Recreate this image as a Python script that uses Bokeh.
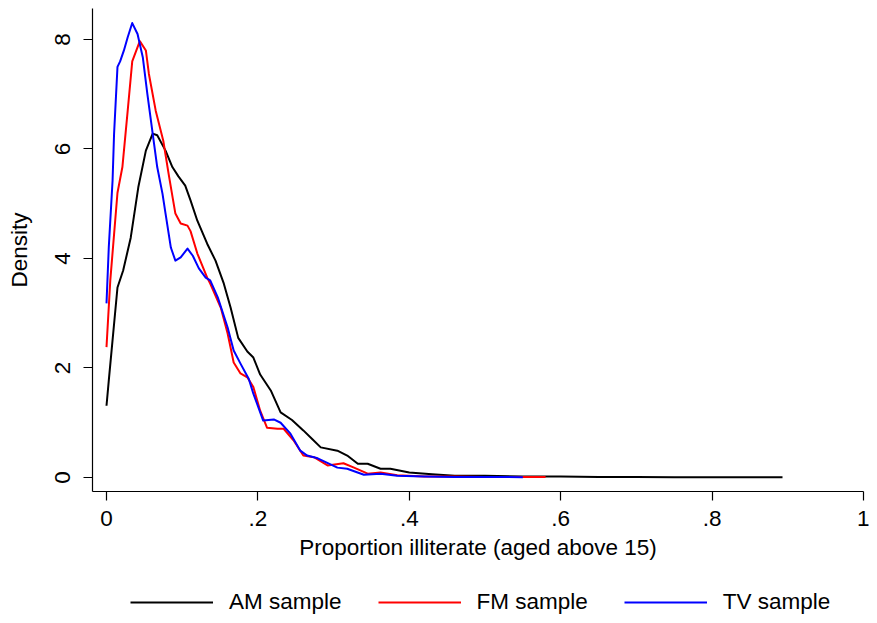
from bokeh.plotting import figure
from bokeh.layouts import column
from bokeh.models import Range1d, FixedTicker, CustomJSTickFormatter, Legend, LegendItem
from bokeh.embed import file_html
from bokeh.resources import INLINE

# ---- data ----
am_x = [0, 0.003, 0.0145, 0.022, 0.032, 0.042, 0.052, 0.061, 0.067, 0.078, 0.087, 0.095,
        0.104, 0.111, 0.12, 0.133, 0.144, 0.155, 0.164, 0.174, 0.186, 0.194, 0.203, 0.217,
        0.23, 0.245, 0.26, 0.272, 0.283, 0.305, 0.318, 0.332, 0.345, 0.362, 0.375, 0.40,
        0.43, 0.46, 0.5, 0.55, 0.6, 0.65, 0.7, 0.75, 0.8, 0.85, 0.893]
am_y = [1.31, 1.77, 3.47, 3.78, 4.38, 5.3, 5.97, 6.28, 6.25, 5.97, 5.67, 5.5,
        5.33, 5.06, 4.69, 4.27, 3.96, 3.54, 3.1, 2.55, 2.3, 2.19, 1.88, 1.59,
        1.19, 1.05, 0.86, 0.7, 0.55, 0.49, 0.4, 0.25, 0.25, 0.16, 0.16, 0.09,
        0.06, 0.03, 0.03, 0.02, 0.02, 0.01, 0.01, 0.005, 0.005, 0.005, 0.005]

fm_x = [0, 0.005, 0.0145, 0.021, 0.028, 0.034, 0.044, 0.052, 0.056, 0.065, 0.075, 0.082,
        0.088, 0.091, 0.098, 0.107, 0.111, 0.12, 0.133, 0.137, 0.151, 0.16, 0.168, 0.177,
        0.186, 0.194, 0.203, 0.212, 0.226, 0.234, 0.247, 0.26, 0.274, 0.292, 0.313, 0.327,
        0.345, 0.362, 0.384, 0.42, 0.46, 0.5, 0.54, 0.58]
fm_y = [2.38, 3.6, 5.2, 5.67, 6.7, 7.6, 7.97, 7.8, 7.37, 6.7, 6.15, 5.55,
        5.06, 4.82, 4.64, 4.6, 4.5, 4.09, 3.65, 3.54, 3.1, 2.63, 2.1, 1.9,
        1.83, 1.65, 1.22, 0.91, 0.89, 0.89, 0.68, 0.4, 0.37, 0.22, 0.26, 0.18,
        0.07, 0.09, 0.04, 0.02, 0.02, 0.01, 0.01, 0.01]

tv_x = [0, 0.003, 0.008, 0.01, 0.0145, 0.018, 0.023, 0.028, 0.034, 0.041, 0.048, 0.054,
        0.061, 0.067, 0.074, 0.078, 0.085, 0.091, 0.098, 0.107, 0.114, 0.122, 0.131, 0.137,
        0.147, 0.16, 0.168, 0.177, 0.188, 0.194, 0.207, 0.221, 0.23, 0.243, 0.256, 0.265,
        0.279, 0.305, 0.318, 0.34, 0.362, 0.384, 0.42, 0.46, 0.5, 0.55]
tv_y = [3.18, 4.2, 5.42, 6.28, 7.5, 7.6, 7.8, 8.04, 8.3, 8.1, 7.67, 7.0,
        6.28, 5.67, 5.18, 4.82, 4.2, 3.96, 4.02, 4.18, 4.05, 3.82, 3.65, 3.6,
        3.29, 2.74, 2.32, 2.08, 1.8, 1.53, 1.04, 1.06, 1.0, 0.8, 0.49, 0.4,
        0.35, 0.18, 0.16, 0.05, 0.07, 0.03, 0.02, 0.01, 0.01, 0.005]

series_names = ["AM sample", "FM sample", "TV sample"]
series_colors = ["#000000", "#FF0000", "#0000FF"]
x_ticks = [0, 0.2, 0.4, 0.6, 0.8, 1]
y_ticks = [0, 2, 4, 6, 8]

FONT = "Liberation Sans"
FS = "22.5px"
W = 869

p = figure(width=W, height=566, output_backend="svg", toolbar_location=None,
           x_range=Range1d(-0.0185, 1.0), y_range=Range1d(-0.256, 8.566),
           min_border_left=92, min_border_right=6, min_border_top=8, min_border_bottom=75)
p.outline_line_color = None
p.xgrid.visible = False
p.ygrid.visible = False
p.background_fill_color = "white"
p.border_fill_color = "white"

all_x = [am_x, fm_x, tv_x]
all_y = [am_y, fm_y, tv_y]
for xs, ys, c in zip(all_x, all_y, series_colors):
    p.line(xs, ys, line_color=c, line_width=2, line_join="round")

for ax in (p.xaxis[0], p.yaxis[0]):
    ax.axis_line_color = "black"
    ax.axis_line_width = 1.2
    ax.major_tick_line_color = "black"
    ax.major_tick_line_width = 1.2
    ax.major_tick_out = 9
    ax.major_tick_in = 0
    ax.minor_tick_line_color = None
    ax.major_label_text_font = FONT
    ax.major_label_text_font_size = FS
    ax.major_label_text_color = "black"
    ax.axis_label_text_font = FONT
    ax.axis_label_text_font_size = FS
    ax.axis_label_text_font_style = "normal"
    ax.axis_label_text_color = "black"

p.xaxis.ticker = FixedTicker(ticks=x_ticks)
p.xaxis.formatter = CustomJSTickFormatter(code="""
    if (Math.abs(tick) < 1e-9) return "0";
    if (Math.abs(tick - 1) < 1e-9) return "1";
    return tick.toFixed(1).replace(/^0/, "");
""")
p.xaxis.axis_label = "Proportion illiterate (aged above 15)"
p.xaxis.major_label_standoff = 10
p.xaxis.axis_label_standoff = 6

p.yaxis.ticker = FixedTicker(ticks=y_ticks)
p.yaxis.axis_label = "Density"
p.yaxis.major_label_orientation = "vertical"
p.yaxis.major_label_standoff = 13
p.yaxis.axis_label_standoff = 21

# legend strip below the chart (same series, drawn outside its visible range)
lg = figure(width=W, height=49, output_backend="svg", toolbar_location=None,
            x_range=Range1d(-0.0185, 1.0), y_range=Range1d(100, 101),
            min_border_left=92, min_border_right=6, min_border_top=0, min_border_bottom=0)
lg.axis.visible = False
lg.grid.visible = False
lg.outline_line_color = None
lg.background_fill_color = "white"
lg.border_fill_color = "white"

items = []
for n, xs, ys, c in zip(series_names, all_x, all_y, series_colors):
    r = lg.line(xs, ys, line_color=c, line_width=2)
    items.append(LegendItem(label=n, renderers=[r]))

legend = Legend(items=items, orientation="horizontal", location=(38, 0),
                glyph_width=83, glyph_height=20, label_standoff=16, spacing=36,
                padding=0, margin=0, border_line_color=None, background_fill_alpha=0,
                label_text_font=FONT, label_text_font_size=FS, label_text_color="black")
lg.add_layout(legend, "center")

layout = column(p, lg, spacing=0)
open("out.html", "w").write(file_html(layout, INLINE))
